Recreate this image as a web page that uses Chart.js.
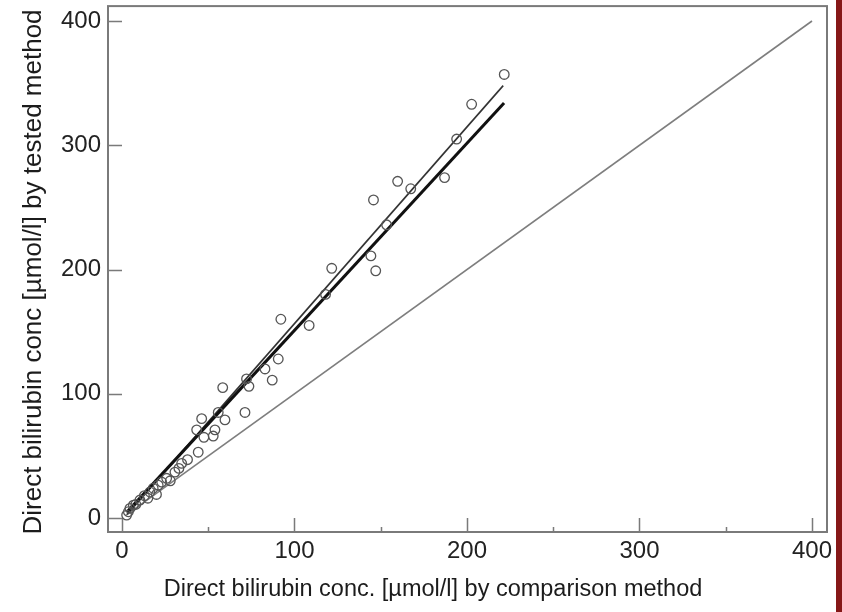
<!DOCTYPE html>
<html>
<head>
<meta charset="utf-8">
<script src="https://cdn.jsdelivr.net/npm/chart.js@4"></script>
<style>
  html, body { margin: 0; padding: 0; background: #fff; }
  #wrap { position: relative; width: 842px; height: 612px; overflow: hidden; background: #fff; }
  #wrap canvas { position: absolute; left: 0; top: 0; }
  #edge { position: absolute; top: 0; right: 0; width: 6px; height: 612px; background: #861818; }
</style>
</head>
<body>
<div id="wrap">
  <canvas id="chart" width="842" height="612"></canvas>
  <div id="edge"></div>
</div>
<script>
// Direct bilirubin, paired samples: comparison method (x) vs tested method (y), µmol/l
const comparisonMethod = [221.6, 202.7, 194, 187, 167.4, 159.8, 153.4, 145.8, 144.3, 147.1,
  121.6, 118, 108.5, 92.1, 90.6, 87.1, 82.9, 73.6, 72.2, 71.3,
  58.4, 59.7, 55.8, 53.9, 52.9, 47.5, 46.2, 43.3, 44.2, 34.6,
  30.7, 25.9, 21, 18.1, 16.2, 10.4, 6.6, 4.6, 3.7, 2.7,
  38, 28, 23, 13, 8, 20, 33, 15];
const testedMethod = [357, 333, 305, 274, 265, 271, 236, 256, 211, 199,
  201, 180, 155, 160, 128, 111, 120, 106, 112, 85,
  105, 79, 85, 71, 66, 65, 80, 71, 53, 44,
  37, 32, 26.5, 24, 21, 14.5, 10.4, 7.8, 5.1, 2.4,
  47, 30, 29, 18, 11, 19, 40, 16];

// Regression line (bold) and second fit (thin), drawn over the measured range
const regressionX = [3, 221.5];
const regressionY = [5, 334];
const fitX = [3, 221];
const fitY = [3, 348];
// Line of identity
const identityX = [2, 400];
const identityY = [2, 400];

// Axis ticks
const majorTicks = [0, 100, 200, 300, 400];
const minorTicksX = [50, 150, 250, 350];

const xTitle = 'Direct bilirubin conc. [µmol/l] by comparison method';
const yTitle = 'Direct bilirubin conc [µmol/l] by tested method';

const toPoints = (xs, ys) => xs.map((v, i) => ({ x: v, y: ys[i] }));

const FONT = '"Liberation Sans", Arial, sans-serif';

// Frame, inward tick marks and axis titles
const framePlugin = {
  id: 'frame',
  beforeDatasetsDraw(chart) {
    const { ctx, chartArea: a, scales: { x, y } } = chart;
    ctx.save();
    ctx.strokeStyle = '#7a7a7a';
    ctx.lineWidth = 2;
    ctx.strokeRect(a.left, a.top, a.right - a.left, a.bottom - a.top);
    ctx.lineWidth = 1.5;
    ctx.beginPath();
    majorTicks.forEach(v => {
      const py = Math.round(y.getPixelForValue(v)) + 0.5;
      ctx.moveTo(a.left, py); ctx.lineTo(a.left + 14, py);
      const px = Math.round(x.getPixelForValue(v)) + 0.5;
      ctx.moveTo(px, a.bottom); ctx.lineTo(px, a.bottom - 14);
    });
    minorTicksX.forEach(v => {
      const px = Math.round(x.getPixelForValue(v)) + 0.5;
      ctx.moveTo(px, a.bottom); ctx.lineTo(px, a.bottom - 5);
    });
    ctx.stroke();

    ctx.fillStyle = '#1c1c1c';
    ctx.textAlign = 'center';
    ctx.textBaseline = 'middle';
    ctx.font = '23.5px ' + FONT;
    ctx.fillText(xTitle, 433, 590);
    ctx.translate(34, 272);
    ctx.rotate(-Math.PI / 2);
    ctx.font = '26px ' + FONT;
    ctx.fillText(yTitle, 0, 0);
    ctx.restore();
  }
};

const tickFont = { family: FONT, size: 24 };

new Chart(document.getElementById('chart'), {
  type: 'scatter',
  data: {
    datasets: [
      {
        label: 'Samples',
        data: toPoints(comparisonMethod, testedMethod),
        pointStyle: 'circle',
        pointRadius: 4.8,
        pointBorderWidth: 1.3,
        pointBorderColor: '#555',
        pointBackgroundColor: 'rgba(0,0,0,0)'
      },
      {
        label: 'Regression',
        data: toPoints(regressionX, regressionY),
        showLine: true,
        pointRadius: 0,
        borderColor: '#111',
        borderWidth: 3
      },
      {
        label: 'Fit',
        data: toPoints(fitX, fitY),
        showLine: true,
        pointRadius: 0,
        borderColor: '#333',
        borderWidth: 1.6
      },
      {
        label: 'Identity',
        data: toPoints(identityX, identityY),
        showLine: true,
        pointRadius: 0,
        borderColor: '#7e7e7e',
        borderWidth: 1.6
      }
    ]
  },
  options: {
    responsive: false,
    maintainAspectRatio: false,
    animation: false,
    devicePixelRatio: 1,
    layout: { padding: { top: 5, right: 15, left: 0, bottom: 0 } },
    plugins: { legend: { display: false }, tooltip: { enabled: false } },
    scales: {
      x: {
        type: 'linear',
        min: -8.1,
        max: 408.7,
        grid: { display: false, drawTicks: false },
        border: { display: false },
        ticks: { font: tickFont, color: '#222', padding: 5, maxRotation: 0, callback: v => String(v) },
        afterBuildTicks: s => { s.ticks = majorTicks.map(v => ({ value: v })); },
        afterFit: s => { s.height = 80; s.paddingLeft = 0; s.paddingRight = 0; }
      },
      y: {
        type: 'linear',
        min: -11.2,
        max: 412,
        grid: { display: false, drawTicks: false },
        border: { display: false },
        ticks: { font: tickFont, color: '#222', padding: 7, callback: v => String(v) },
        afterBuildTicks: s => { s.ticks = majorTicks.map(v => ({ value: v })); },
        afterFit: s => { s.width = 108; s.paddingTop = 0; s.paddingBottom = 0; }
      }
    }
  },
  plugins: [framePlugin]
});
</script>
</body>
</html>
